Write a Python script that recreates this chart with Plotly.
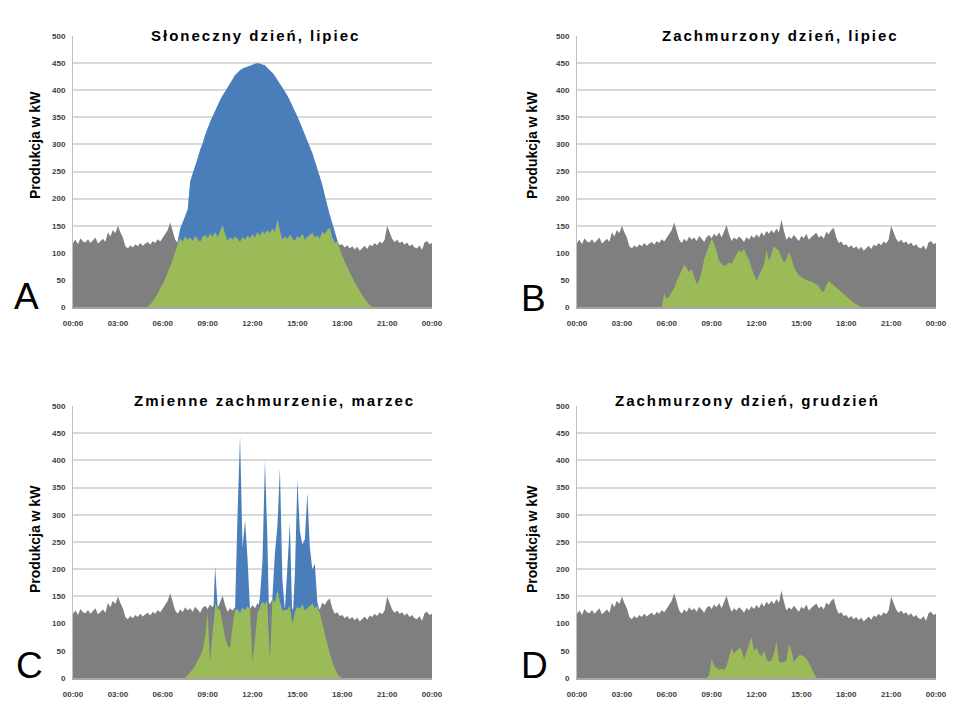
import numpy as np
import plotly.graph_objects as go

# ---------------- data ----------------
# Consumption (kW), 10-minute samples from 00:00 to 24:00 (same in all panels)
consumption = [
    118, 124, 116, 127, 121, 119,
    125, 118, 123, 128, 117, 122,
    126, 120, 138, 130, 142, 136,
    150, 138, 128, 112, 108, 114,
    110, 116, 112, 118, 113, 117,
    120, 115, 122, 118, 125, 121,
    128, 135, 142, 156, 138, 124,
    118, 126, 121, 130, 124, 128,
    122, 131, 126, 120, 129, 133,
    127, 135, 130, 138, 128, 140,
    151, 134, 122, 128, 124, 130,
    126, 120, 129, 124, 132, 127,
    134, 128, 138, 131, 140, 135,
    142, 136, 145, 138, 161, 140,
    124, 130, 126, 133, 128, 122,
    131, 127, 135, 124, 129, 133,
    137, 128, 132, 126, 139, 134,
    142, 146, 128, 118, 121, 114,
    116, 110, 114, 108, 112, 106,
    111, 104, 109, 113, 107, 115,
    112, 118, 114, 121, 117, 124,
    150, 136, 126, 120, 124, 118,
    121, 115, 119, 112, 116, 110,
    108, 114, 105, 119, 122, 116,
    118,
]

# PV production (kW), 10-minute samples starting at the given time
pv_a_start = "05:10"
pv_a = [
    5, 10, 18, 25, 35,
    42, 52, 62, 75, 88, 105,
    122, 145, 158, 168, 180, 232,
    248, 262, 275, 290, 302, 318,
    332, 342, 352, 363, 372, 382,
    390, 397, 405, 412, 420, 428,
    433, 437, 440, 442, 444, 445,
    447, 449, 450, 449, 448, 446,
    441, 437, 432, 426, 420, 412,
    405, 398, 390, 381, 372, 362,
    352, 341, 330, 320, 308, 296,
    284, 270, 256, 242, 226, 206,
    186, 170, 155, 138, 122, 108,
    95, 84, 74, 64, 55, 46,
    38, 30, 22, 15, 9, 4,
    0,
]

pv_b_start = "05:50"
pv_b = [
    25,
    15, 20, 28, 35, 48, 58,
    70, 78, 72, 64, 70, 55,
    42, 50, 65, 88, 102, 116,
    126, 118, 100, 85, 80, 76,
    78, 82, 80, 88, 98, 105,
    100, 108, 95, 88, 72, 60,
    48, 58, 68, 78, 105, 85,
    98, 112, 108, 104, 92, 82,
    88, 102, 90, 74, 65, 58,
    55, 52, 50, 48, 47, 44,
    42, 38, 30, 28, 40, 48,
    44, 40, 36, 32, 28, 24,
    20, 15, 11, 8, 5, 2,
    0,
]

pv_c_start = "07:30"
pv_c = [
    0, 5, 10,
    15, 22, 32, 40, 52, 75,
    120, 30, 85, 205, 132, 125,
    100, 75, 60, 55, 95, 125,
    300, 445, 240, 290, 220, 130,
    30, 70, 120, 150, 215, 400,
    250, 35, 150, 230, 280, 385,
    180, 125, 200, 285, 100, 190,
    365, 270, 245, 255, 340, 240,
    200, 210, 140, 120, 100, 80,
    62, 45, 30, 18, 8, 2,
    0,
]

pv_d_start = "08:50"
pv_d = [
    5,
    36, 22, 18, 15, 17, 15,
    22, 40, 55, 45, 50, 55,
    52, 35, 48, 60, 75, 50,
    55, 45, 40, 50, 35, 30,
    32, 45, 68, 30, 28, 30,
    32, 62, 50, 30, 35, 42,
    42, 40, 35, 28, 18, 8,
    0,
]

panel_titles = [
    "Słoneczny dzień, lipiec",
    "Zachmurzony dzień, lipiec",
    "Zmienne zachmurzenie, marzec",
    "Zachmurzony dzień, grudzień",
]
panel_letters = ["A", "B", "C", "D"]
y_title = "Produkcja w kW"
x_tick_hours = [0, 3, 6, 9, 12, 15, 18, 21, 24]
x_tick_labels = ["00:00", "03:00", "06:00", "09:00", "12:00", "15:00", "18:00", "21:00", "00:00"]
y_ticks = [0, 50, 100, 150, 200, 250, 300, 350, 400, 450, 500]

# ---------------- build ----------------
cons = np.array(consumption, dtype=float)
n = len(cons)
hours = np.arange(n) / 6.0


def full_series(start, vals):
    h, m = start.split(":")
    i0 = int(h) * 6 + int(m) // 10
    arr = np.zeros(n)
    arr[i0:i0 + len(vals)] = vals
    return arr


pvs = [full_series(pv_a_start, pv_a), full_series(pv_b_start, pv_b),
       full_series(pv_c_start, pv_c), full_series(pv_d_start, pv_d)]

GRAY = "#7f7f7f"
GREEN = "#9bbb59"
BLUE = "#4a7ebb"

# the page body adds an 8px margin, so the figure is placed at (8, 8)
OFF = 8
W, H = 962 - OFF, 717 - OFF
# pixel boxes in window coords: (left, right, top, bottom)
boxes = [(73, 432, 36, 307), (577, 936, 36, 307), (73, 432, 406, 678), (577, 936, 406, 678)]
title_pos = [(256, 35), (780, 35), (274, 400), (747, 400)]
ytitle_pos = [(35, 145), (532, 145), (35, 539), (532, 539)]
letter_pos = [(26, 296), (533, 298), (29, 665), (534, 665)]


def px(x):
    return (x - OFF) / W


def py(y):
    return 1 - (y - OFF) / H


fig = go.Figure()
layout = dict(width=W, height=H, margin=dict(l=0, r=0, t=0, b=0, autoexpand=False),
              paper_bgcolor="white", plot_bgcolor="white", showlegend=False)
annotations = []

for k in range(4):
    ax = "" if k == 0 else str(k + 1)
    xref, yref = "x" + ax, "y" + ax
    pv = pvs[k]
    green = np.minimum(pv, cons)
    fig.add_trace(go.Scatter(x=hours, y=cons, mode="lines", line=dict(width=0, color=GRAY),
                             fill="tozeroy", fillcolor=GRAY, xaxis=xref, yaxis=yref, hoverinfo="skip"))
    fig.add_trace(go.Scatter(x=hours, y=green, mode="lines", line=dict(width=0, color=GREEN),
                             fill="tozeroy", fillcolor=GREEN, xaxis=xref, yaxis=yref, hoverinfo="skip"))
    fig.add_trace(go.Scatter(x=hours, y=np.maximum(pv, green), mode="lines", line=dict(width=0, color=BLUE),
                             fill="tonexty", fillcolor=BLUE, xaxis=xref, yaxis=yref, hoverinfo="skip"))
    l, r, t, b = boxes[k]
    layout["xaxis" + ax] = dict(domain=[px(l), px(r)], range=[0, 24], tickvals=x_tick_hours,
                                ticktext=x_tick_labels, showgrid=False, zeroline=False,
                                showline=True, linecolor="#a6a6a6", linewidth=1.5,
                                ticks="", ticklabelstandoff=8, automargin=False,
                                tickfont=dict(family="Liberation Sans", size=8, color="#404040", weight="bold"),
                                anchor=yref, fixedrange=True)
    layout["yaxis" + ax] = dict(domain=[py(b), py(t)], range=[0, 500], tickvals=y_ticks,
                                showgrid=True, gridcolor="#d9d9d9", gridwidth=1.5, zeroline=False,
                                showline=True, linecolor="#bfbfbf", linewidth=1, ticks="",
                                ticklabelstandoff=5, automargin=False,
                                tickfont=dict(family="Liberation Sans", size=8, color="#404040", weight="bold"),
                                anchor=xref, fixedrange=True)
    tx, ty = title_pos[k]
    annotations.append(dict(text='<span style="letter-spacing:2px">' + panel_titles[k] + '</span>',
                            x=px(tx), y=py(ty), xref="paper", yref="paper",
                            showarrow=False, xanchor="center", yanchor="middle",
                            font=dict(family="Liberation Sans", size=15, color="black", weight="bold")))
    yx, yy = ytitle_pos[k]
    annotations.append(dict(text=y_title, x=px(yx), y=py(yy), xref="paper", yref="paper",
                            showarrow=False, xanchor="center", yanchor="middle", textangle=-90,
                            font=dict(family="Liberation Sans", size=14, color="black", weight="bold")))
    lx, ly = letter_pos[k]
    annotations.append(dict(text=panel_letters[k], x=px(lx), y=py(ly), xref="paper", yref="paper",
                            showarrow=False, xanchor="center", yanchor="middle",
                            font=dict(family="Liberation Sans", size=37, color="black")))

layout["annotations"] = annotations
fig.update_layout(**layout)
fig.write_html("out.html")
